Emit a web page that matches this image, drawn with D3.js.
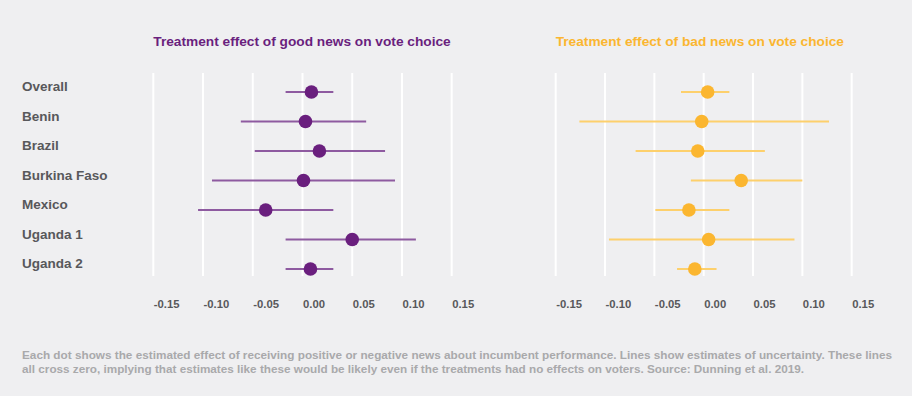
<!DOCTYPE html>
<html>
<head>
<meta charset="utf-8">
<script src="https://cdn.jsdelivr.net/npm/d3@7"></script>
<style>
  html, body { margin: 0; padding: 0; background: #efeff1; }
  svg { display: block; }
  text { font-family: "Liberation Sans", Arial, sans-serif; font-weight: bold; }
</style>
</head>
<body>
<svg id="chart" width="912" height="396"></svg>
<script>
const categories = ["Overall", "Benin", "Brazil", "Burkina Faso", "Mexico", "Uganda 1", "Uganda 2"];
const tickValues = [-0.15, -0.10, -0.05, 0.00, 0.05, 0.10, 0.15];

// Good news panel
const goodEstimate = [0.009, 0.003, 0.017, 0.001, -0.037, 0.050, 0.008];
const goodLower    = [-0.017, -0.062, -0.048, -0.091, -0.105, -0.017, -0.017];
const goodUpper    = [0.031, 0.064, 0.083, 0.093, 0.031, 0.114, 0.031];

// Bad news panel
const badEstimate = [0.004, -0.002, -0.006, 0.038, -0.015, 0.005, -0.009];
const badLower    = [-0.023, -0.126, -0.069, -0.013, -0.049, -0.096, -0.027];
const badUpper    = [0.026, 0.127, 0.062, 0.100, 0.026, 0.092, 0.013];

const titles = ["Treatment effect of good news on vote choice", "Treatment effect of bad news on vote choice"];
const caption = [
  "Each dot shows the estimated effect of receiving positive or negative news about incumbent performance. Lines show estimates of uncertainty. These lines",
  "all cross zero, implying that estimates like these would be likely even if the treatments had no effects on voters. Source: Dunning et al. 2019."
];

const svg = d3.select("#chart");
const bg = "#efeff1";
svg.append("rect").attr("width", 912).attr("height", 396).attr("fill", bg);

const y = d3.scalePoint().domain(categories).range([92, 269]);

const panels = [
  { range: [153.3, 451.7], est: goodEstimate, lo: goodLower, hi: goodUpper,
    dot: "#6a1f7e", line: "#8e5aa0", title: titles[0], titleColor: "#6a1f7e" },
  { range: [555.7, 851.7], est: badEstimate, lo: badLower, hi: badUpper,
    dot: "#fbb630", line: "#fdd06c", title: titles[1], titleColor: "#fbb630" }
];

// Category labels
svg.append("g").selectAll("text").data(categories).join("text")
  .attr("x", 22).attr("y", d => y(d) - 1)
  .attr("fill", "#58585b").attr("font-size", "13.5px")
  .text(d => d);

panels.forEach(p => {
  const x = d3.scaleLinear().domain([-0.15, 0.15]).range(p.range);
  const g = svg.append("g");

  // gridlines
  g.append("g").selectAll("line").data(tickValues).join("line")
    .attr("x1", d => x(d)).attr("x2", d => x(d))
    .attr("y1", 73).attr("y2", 276)
    .attr("stroke", "#ffffff").attr("stroke-width", 2);

  // axis labels (left-aligned at gridline)
  const axis = d3.axisBottom(x).tickValues(tickValues).tickSize(0).tickPadding(0)
    .tickFormat(d3.format(".2f"));
  const ax = g.append("g").attr("transform", "translate(0,300)").call(axis);
  ax.select(".domain").remove();
  ax.selectAll("text")
    .attr("text-anchor", "start")
    .attr("fill", "#58585b")
    .attr("font-size", "11.3px")
    .attr("font-family", "Liberation Sans, Arial, sans-serif")
    .attr("font-weight", "bold")
    .text(d => d3.format(".2f")(d).replace("−", "-"));

  // title
  g.append("text").attr("x", p.range[0]).attr("y", 45.5)
    .attr("fill", p.titleColor).attr("font-size", "13.7px").text(p.title);

  // CI lines
  g.append("g").selectAll("line").data(categories).join("line")
    .attr("x1", (d, i) => x(p.lo[i])).attr("x2", (d, i) => x(p.hi[i]))
    .attr("y1", d => y(d)).attr("y2", d => y(d))
    .attr("stroke", p.line).attr("stroke-width", 2);

  // dots
  g.append("g").selectAll("circle").data(categories).join("circle")
    .attr("cx", (d, i) => x(p.est[i])).attr("cy", d => y(d))
    .attr("r", 6.8).attr("fill", p.dot);
});

// caption
const lens = [870, 782];
svg.append("g").selectAll("text").data(caption).join("text")
  .attr("x", 22).attr("y", (d, i) => 359 + i * 13.5)
  .attr("fill", "#a9a9ab").attr("font-size", "11px")
  .attr("textLength", (d, i) => lens[i]).attr("lengthAdjust", "spacingAndGlyphs")
  .text(d => d);
</script>
</body>
</html>
